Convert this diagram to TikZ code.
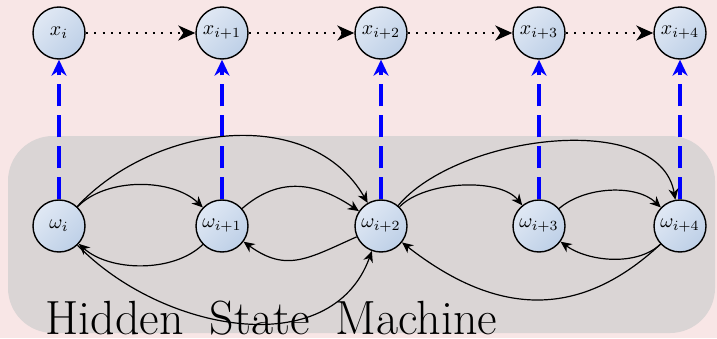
\documentclass[tikz,border=0pt]{standalone}
\usetikzlibrary{arrows.meta}
\definecolor{bgpink}{RGB}{248,230,230}
\definecolor{boxgray}{RGB}{218,213,213}
\definecolor{nodelight}{RGB}{224,232,244}
\definecolor{nodedark}{RGB}{190,208,231}
\newcommand{\wordgap}{\hspace{13pt}}
\begin{document}
\begin{tikzpicture}[x=0.5pt,y=0.5pt,
  state/.style={circle, draw=black, line width=0.7pt, minimum size=26pt, inner sep=0pt,
    top color=nodelight, bottom color=nodedark, shading angle=45},
  trans/.style={-{Stealth[length=5.5pt,width=5pt]}, line width=0.6pt},
  emit/.style={blue, line width=2.4pt, dash pattern=on 11pt off 4.5pt,
    -{Stealth[length=8pt,width=7.5pt]}},
  seq/.style={line width=1pt, dash pattern=on 1pt off 3.2pt,
    -{Stealth[length=8.5pt,width=7.5pt,inset=2.5pt]}}]
  % canvas and the shaded panel of the hidden layer
  \fill[bgpink] (0,0) rectangle (717,338);
  \useasboundingbox (0,0) rectangle (717,338);
  \fill[boxgray, rounded corners=22.5pt] (8,5) rectangle (715,202);
  \node[anchor=base west, inner sep=0pt, font=\fontsize{24}{28}\selectfont] (title) at (45,4)
    {Hidden\wordgap State\wordgap Machine};

  % observations
  \node[state] (x1) at (59,305)  {$x_i$};
  \node[state] (x2) at (222,305) {$x_{i+1}$};
  \node[state] (x3) at (381,305) {$x_{i+2}$};
  \node[state] (x4) at (539,305) {$x_{i+3}$};
  \node[state] (x5) at (680,305) {$x_{i+4}$};

  % hidden states
  \node[state] (w1) at (59,112)  {$\omega_i$};
  \node[state] (w2) at (222,112) {$\omega_{i+1}$};
  \node[state] (w3) at (381,112) {$\omega_{i+2}$};
  \node[state] (w4) at (539,112) {$\omega_{i+3}$};
  \node[state] (w5) at (680,112) {$\omega_{i+4}$};

  % observation sequence
  \draw[seq] (x1) -- (x2);
  \draw[seq] (x2) -- (x3);
  \draw[seq] (x3) -- (x4);
  \draw[seq] (x4) -- (x5);

  % emissions
  \foreach \k in {1,...,5}
    \draw[emit] (w\k.north) -- (x\k.south);

  % transitions between neighbours
  \draw[trans] (w1) to[out=46,in=136,looseness=0.85] (w2);
  \draw[trans] (w2) to[out=224,in=318,looseness=0.85] (w1);
  \draw[trans] (w2) to[out=41,in=146,looseness=1.1] (w3);
  \draw[trans] (w3) to[out=204,in=324,looseness=1.2] (w2);
  \draw[trans] (w3) to[out=46,in=129,looseness=0.75] (w4);
  \draw[trans] (w4) to[out=41,in=136,looseness=0.85] (w5);
  \draw[trans] (w5) to[out=223,in=324,looseness=0.85] (w4);

  % transitions skipping one state
  \draw[trans] (w1) to[out=47,in=120,looseness=1.0] (w3);
  \draw[trans] (w1) to[out=-46,in=250,looseness=1.04] (w3);
  \draw[trans] (w3) to[out=50,in=100,looseness=0.85] (w5);
  \draw[trans] (w5) to[out=223,in=322,looseness=1.14] (w3);
\end{tikzpicture}
\end{document}
